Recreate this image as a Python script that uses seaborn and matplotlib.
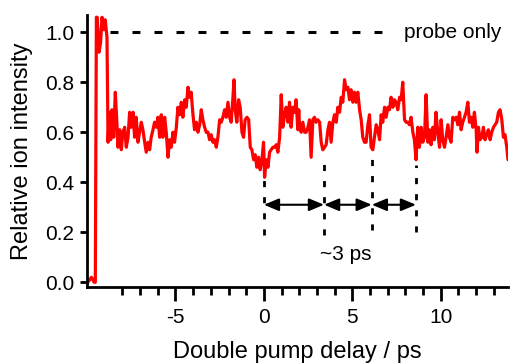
import matplotlib
matplotlib.use("Agg")
import matplotlib.pyplot as plt
import pandas as pd
import seaborn as sns

# trace (ps, relative ion intensity)
delay = [
    -9.95, -9.75, -9.60, -9.53, -9.47, -9.42, -9.32, -9.23, -9.15, -9.06, -8.97, -8.87,
    -8.81, -8.74, -8.66, -8.59, -8.49, -8.40, -8.32, -8.25, -8.15, -8.06,
    -7.97, -7.87, -7.78, -7.68, -7.59, -7.50, -7.40, -7.31, -7.22, -7.12,
    -7.03, -6.93, -6.84, -6.74, -6.65, -6.55, -6.46, -6.37, -6.27, -6.18,
    -6.08, -5.99,
    -5.89, -5.80, -5.71, -5.61, -5.52, -5.42, -5.33, -5.24, -5.14, -5.05,
    -4.95, -4.86, -4.76, -4.67, -4.58, -4.48, -4.39, -4.29, -4.20, -4.11,
    -4.01, -3.92, -3.82, -3.73, -3.63, -3.54, -3.45, -3.35, -3.26, -3.16,
    -3.07, -2.98, -2.88, -2.79, -2.69, -2.60, -2.50, -2.41, -2.32, -2.22,
    -2.13, -2.03,
    -1.94, -1.85, -1.75, -1.69, -1.62, -1.53, -1.43, -1.34, -1.24, -1.15,
    -1.06, -0.96, -0.86, -0.77, -0.68, -0.58, -0.49, -0.40, -0.30, -0.21,
    -0.11, -0.02, 0.04, 0.13, 0.23, 0.32, 0.41, 0.51, 0.60, 0.70,
    0.79, 0.89, 0.98, 1.07, 1.17, 1.26, 1.36, 1.45, 1.54, 1.64,
    1.73, 1.82, 1.92,
    1.97, 2.02, 2.11, 2.20, 2.30, 2.39, 2.49, 2.58, 2.67, 2.77, 2.86,
    2.95, 3.05, 3.15, 3.24, 3.33, 3.43, 3.52, 3.62, 3.71, 3.80,
    3.90, 3.99, 4.09, 4.18, 4.28, 4.37, 4.46, 4.56, 4.65, 4.75,
    4.84, 4.93, 5.03, 5.12, 5.21, 5.31, 5.41, 5.50, 5.59, 5.69,
    5.78, 5.88,
    5.97, 6.06, 6.16, 6.25, 6.35, 6.44, 6.54, 6.63, 6.72, 6.82,
    6.91, 7.01, 7.10, 7.19, 7.29, 7.38, 7.47, 7.57, 7.67, 7.76,
    7.85, 7.95, 8.04, 8.14, 8.23, 8.32, 8.42, 8.51, 8.60, 8.70,
    8.79, 8.89, 8.98, 9.08, 9.17, 9.27, 9.36, 9.45, 9.55, 9.64,
    9.73, 9.83,
    9.93, 10.02, 10.11, 10.21, 10.30, 10.40, 10.49, 10.58, 10.68, 10.77,
    10.87, 10.96, 11.06, 11.15, 11.24, 11.34, 11.43, 11.53, 11.62, 11.71,
    11.81, 11.90, 12.00, 12.05, 12.13, 12.22, 12.32, 12.41, 12.50, 12.60,
    12.69, 12.79, 12.88, 12.98, 13.07, 13.16, 13.26, 13.35, 13.45, 13.54,
    13.63, 13.73, 13.80,
]
intensity = [
    0.00, 0.02, 0.00, 0.00, 1.06, 1.06, 0.92, 0.96, 1.06, 1.01, 1.05, 0.98,
    0.56, 0.68, 0.57, 0.69, 0.58, 0.76, 0.65, 0.54, 0.61, 0.53,
    0.60, 0.62, 0.54, 0.58, 0.68, 0.62, 0.68, 0.58, 0.66, 0.56,
    0.60, 0.64, 0.61, 0.56, 0.52, 0.56, 0.53, 0.58, 0.61, 0.64,
    0.62, 0.66,
    0.58, 0.67, 0.58, 0.66, 0.60, 0.50, 0.57, 0.54, 0.60, 0.56,
    0.62, 0.70, 0.67, 0.72, 0.66, 0.73, 0.70, 0.78, 0.74, 0.76,
    0.67, 0.61, 0.64, 0.60, 0.63, 0.69, 0.65, 0.62, 0.60, 0.60,
    0.57, 0.59, 0.56, 0.57, 0.54, 0.58, 0.65, 0.64, 0.66, 0.69,
    0.66, 0.72,
    0.66, 0.64, 0.74, 0.81, 0.69, 0.64, 0.73, 0.70, 0.60, 0.58,
    0.65, 0.66, 0.65, 0.54, 0.53, 0.49, 0.51, 0.46, 0.50, 0.45,
    0.49, 0.56, 0.42, 0.49, 0.46, 0.52, 0.53, 0.54, 0.54, 0.55,
    0.52, 0.58, 0.75, 0.62, 0.67, 0.70, 0.64, 0.72, 0.62, 0.70,
    0.68, 0.73, 0.61,
    0.69, 0.62, 0.60, 0.64, 0.60, 0.60, 0.62, 0.65, 0.50, 0.65, 0.66,
    0.64, 0.65, 0.64, 0.56, 0.53, 0.54, 0.55, 0.61, 0.64, 0.56,
    0.64, 0.67, 0.64, 0.70, 0.68, 0.74, 0.72, 0.81, 0.77, 0.78,
    0.73, 0.77, 0.72, 0.76, 0.72, 0.76, 0.69, 0.65, 0.58, 0.56,
    0.56, 0.63,
    0.67, 0.54, 0.53, 0.58, 0.63, 0.61, 0.57, 0.67, 0.64, 0.70,
    0.66, 0.70, 0.69, 0.74, 0.70, 0.73, 0.72, 0.69, 0.74, 0.73,
    0.80, 0.65, 0.64, 0.64, 0.63, 0.66, 0.60, 0.57, 0.49, 0.62,
    0.54, 0.62, 0.56, 0.58, 0.75, 0.56, 0.61, 0.55, 0.62, 0.57,
    0.68, 0.60,
    0.54, 0.65, 0.57, 0.54, 0.58, 0.63, 0.58, 0.56, 0.66, 0.65,
    0.66, 0.63, 0.68, 0.61, 0.64, 0.66, 0.68, 0.72, 0.64, 0.66,
    0.62, 0.68, 0.61, 0.52, 0.62, 0.57, 0.58, 0.62, 0.57, 0.59,
    0.61, 0.57, 0.60, 0.62, 0.63, 0.64, 0.68, 0.69, 0.65, 0.58,
    0.59, 0.54, 0.49,
]

probe_level = 1.0
probe_span = [-8.7, 7.4]
period_marks = [0.0, 3.4, 6.1, 8.6]
mark_bottom = [0.19, 0.19, 0.21, 0.20]
mark_top = [0.41, 0.50, 0.51, 0.47]
arrow_level = 0.31

xticks_major = [-5, 0, 5, 10]
xticks_minor = list(range(-8, 14))
yticks = [0.0, 0.2, 0.4, 0.6, 0.8, 1.0]

sns.set_style("ticks")
plt.rcParams["font.family"] = ["Liberation Sans", "DejaVu Sans"]
plt.rcParams["axes.unicode_minus"] = False
plt.rcParams["text.color"] = "black"
plt.rcParams["axes.labelcolor"] = "black"

df = pd.DataFrame({"delay": delay, "intensity": intensity})

fig = plt.figure(figsize=(5.19, 3.63), dpi=100)
ax = fig.add_axes([87 / 519, 76 / 363, (508 - 87) / 519, (348 - 76) / 363])

sns.lineplot(data=df, x="delay", y="intensity", color="#ff0000", lw=2.3,
             estimator=None, sort=False, ax=ax)

ax.hlines(probe_level, probe_span[0], probe_span[1], color="black", lw=2.2,
          linestyles=(0, (2.6, 4.6)))
ax.text(10.65, probe_level, "probe only", fontsize=15, ha="center", va="center")

for xm, lo, hi in zip(period_marks, mark_bottom, mark_top):
    ax.vlines(xm, lo, hi, color="black", lw=2.0, linestyles=(0, (2.2, 3.6)))

for a, b in zip(period_marks[:-1], period_marks[1:]):
    ax.annotate("", xy=(b, arrow_level), xytext=(a, arrow_level),
                arrowprops=dict(arrowstyle="<|-|>,head_length=0.6,head_width=0.25",
                                mutation_scale=15, color="black", lw=1.5,
                                shrinkA=0, shrinkB=0))
ax.text(4.6, 0.11, "~3 ps", fontsize=15, ha="center", va="center")

ax.set_xlim(-10.0, 13.8)
ax.set_ylim(-0.019, 1.069)
ax.set_xticks(xticks_major)
ax.set_xticks(xticks_minor, minor=True)
ax.set_yticks(yticks)
ax.set_yticklabels([f"{v:.1f}" for v in yticks])

sns.despine(ax=ax)
for side in ["left", "bottom"]:
    ax.spines[side].set_linewidth(2.0)
    ax.spines[side].set_color("black")
ax.tick_params(axis="both", which="major", labelsize=15, width=2.0, colors="black")
ax.tick_params(axis="y", length=5, pad=4)
ax.tick_params(axis="x", which="major", length=10, pad=5)
ax.tick_params(axis="x", which="minor", length=5.5, width=2.0, colors="black")

ax.set_xlabel("Double pump delay / ps", fontsize=17, labelpad=10)
ax.set_ylabel("Relative ion intensity", fontsize=17, labelpad=9)

fig.savefig("out.png", dpi=100)
